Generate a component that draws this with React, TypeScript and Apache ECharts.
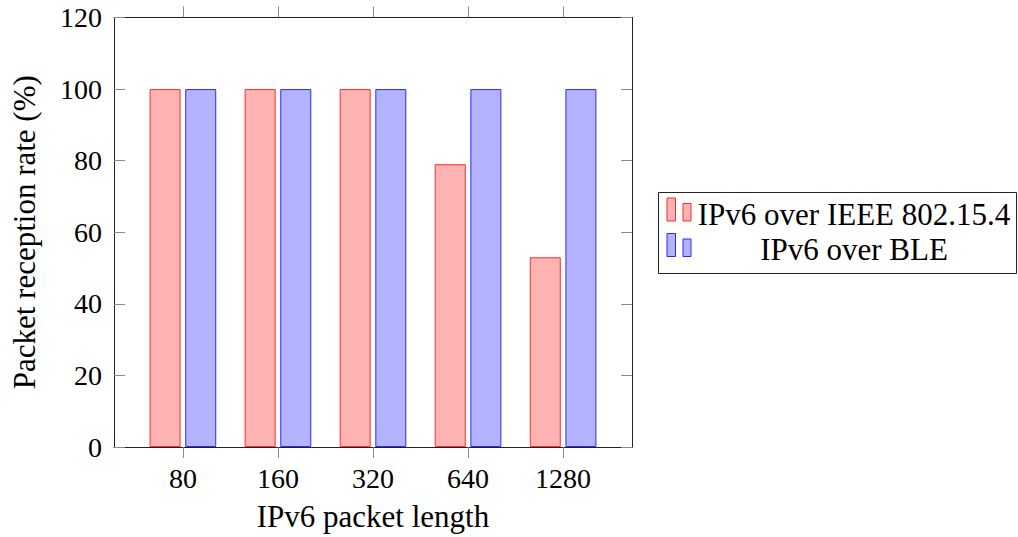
import React, { useEffect, useRef } from "react";
import * as echarts from "echarts";

const categories = ["80", "160", "320", "640", "1280"];
const ieeeValues = [100, 100, 100, 79, 53];
const bleValues = [100, 100, 100, 100, 100];
const yTicks = [0, 20, 40, 60, 80, 100, 120];
const seriesNames = ["IPv6 over IEEE 802.15.4", "IPv6 over BLE"];

const FONT = "Liberation Serif";
const frameColor = "#222";
const tickColor = "#8a8a8a";

export default function App() {
  const ref = useRef<HTMLDivElement>(null);

  useEffect(() => {
    if (!ref.current) return;
    const chart = echarts.init(ref.current, null, { renderer: "svg" });
    const idx = categories.map((_, i) => i);
    const xMin = -0.725;
    const xMax = categories.length - 1 + 0.725;

    const baseX = {
      type: "value" as const,
      min: xMin,
      max: xMax,
      splitLine: { show: false },
      axisLine: { show: true, onZero: false, lineStyle: { color: frameColor, width: 1 } },
      axisTick: {
        show: true,
        inside: false,
        length: 11,
        customValues: idx,
        lineStyle: { color: tickColor, width: 1 },
      },
    };

    const baseY = {
      type: "value" as const,
      min: 0,
      max: yTicks[yTicks.length - 1],
      interval: 20,
      splitLine: { show: false },
      axisLine: { show: true, onZero: false, lineStyle: { color: frameColor, width: 1 } },
      axisTick: { show: true, inside: true, length: 11, lineStyle: { color: tickColor, width: 1 } },
    };

    const legendX = 658.5;
    const legendY = 192.5;
    const legendW = 358;
    const legendH = 81;
    const textCx = 854;
    const rows = [
      { y: 214, top: 198, fill: "#ffb3b3", stroke: "#ff2a2a", name: seriesNames[0] },
      { y: 249, top: 233.5, fill: "#b3b3ff", stroke: "#2a2aff", name: seriesNames[1] },
    ];
    const legendElems: any[] = [
      {
        type: "rect",
        shape: { x: legendX, y: legendY, width: legendW, height: legendH },
        style: { fill: "#fff", stroke: frameColor, lineWidth: 1 },
        z: 100,
      },
    ];
    rows.forEach((r) => {
      legendElems.push({
        type: "rect",
        shape: { x: 667, y: r.top, width: 8.5, height: 23 },
        style: { fill: r.fill, stroke: r.stroke, lineWidth: 1 },
        z: 101,
      });
      legendElems.push({
        type: "rect",
        shape: { x: 683, y: r.top + 5.5, width: 8, height: 17.5 },
        style: { fill: r.fill, stroke: r.stroke, lineWidth: 1 },
        z: 101,
      });
      legendElems.push({
        type: "text",
        x: textCx,
        y: r.y,
        style: {
          text: r.name,
          font: `31px "${FONT}"`,
          fill: "#000",
          align: "center",
          verticalAlign: "middle",
        },
        z: 101,
      });
    });

    chart.setOption({
      animation: false,
      backgroundColor: "#fff",
      textStyle: { fontFamily: FONT, color: "#000" },
      grid: { left: 114, top: 17.5, width: 518, height: 430.5, containLabel: false },
      xAxis: [
        {
          ...baseX,
          position: "bottom",
          name: "IPv6 packet length",
          nameLocation: "middle",
          nameGap: 54,
          nameTextStyle: { fontFamily: FONT, fontSize: 31, color: "#000" },
          axisLabel: {
            show: true,
            margin: 17,
            customValues: idx,
            fontFamily: FONT,
            fontSize: 28,
            color: "#000",
            formatter: (v: number) => categories[Math.round(v)] ?? "",
          },
        },
        {
          ...baseX,
          position: "top",
          axisLabel: { show: false },
        },
      ],
      yAxis: [
        {
          ...baseY,
          position: "left",
          name: "Packet reception rate (%)",
          nameLocation: "middle",
          nameGap: 74,
          nameTextStyle: { fontFamily: FONT, fontSize: 31, color: "#000" },
          axisLabel: { show: true, margin: 12, fontFamily: FONT, fontSize: 28, color: "#000" },
        },
        {
          ...baseY,
          position: "right",
          axisLabel: { show: false },
        },
      ],
      series: [
        {
          name: seriesNames[0],
          type: "bar",
          xAxisIndex: 0,
          yAxisIndex: 0,
          barWidth: 31,
          barGap: "15%",
          data: ieeeValues.map((v, i) => [i, v]),
          itemStyle: { color: "#ffb3b3", borderColor: "#ff2a2a", borderWidth: 1 },
        },
        {
          name: seriesNames[1],
          type: "bar",
          xAxisIndex: 0,
          yAxisIndex: 0,
          barWidth: 31,
          barGap: "15%",
          data: bleValues.map((v, i) => [i, v]),
          itemStyle: { color: "#b3b3ff", borderColor: "#2a2aff", borderWidth: 1 },
        },
      ],
      graphic: legendElems,
    });

    return () => chart.dispose();
  }, []);

  return (
    <div
      ref={ref}
      style={{ position: "fixed", left: 0, top: 0, width: 1018, height: 537, background: "#fff" }}
    />
  );
}
